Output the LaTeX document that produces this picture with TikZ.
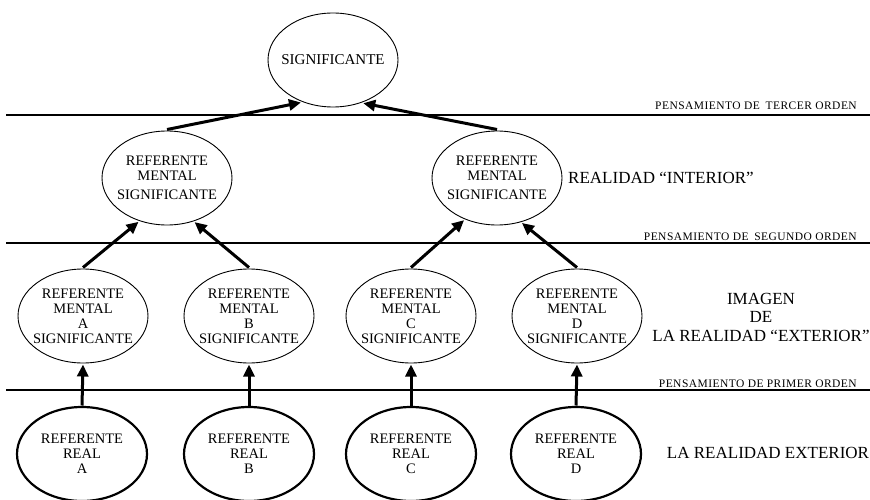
\documentclass[tikz,border=0pt]{standalone}
\usepackage{fontspec}
\setmainfont{Liberation Serif}
\newfontfamily\trackedserif[LetterSpace=4]{Liberation Serif}
\usetikzlibrary{arrows.meta,shapes.geometric}

\begin{document}
\begin{tikzpicture}[x=1pt,y=-1pt,
  mind/.style={draw, ellipse, line width=0.9pt, minimum width=130pt, minimum height=94pt,
    inner xsep=-30pt, inner ysep=-20pt, outer sep=1.5pt, align=center,
    font=\fontsize{14.5}{15}\selectfont},
  real/.style={mind, line width=2.2pt},
  levelline/.style={line width=1.8pt},
  flow/.style={line width=3pt, -{Triangle[length=12pt,width=11pt]}},
  orden/.style={anchor=base east, inner sep=0pt, font=\trackedserif\fontsize{11.5}{12}\selectfont},
  zone/.style={align=center, font=\fontsize{17}{18.5}\selectfont}]

\fill[white] (0,0) rectangle (870,500);
\useasboundingbox (0,0) rectangle (870,500);

% levels of thought
\coordinate (l3a) at (6,115);  \coordinate (l3b) at (870,115);
\coordinate (l2a) at (6,243);  \coordinate (l2b) at (870,243);
\coordinate (l1a) at (6,390);  \coordinate (l1b) at (870,390);
\draw[levelline] (l3a) -- (l3b);
\draw[levelline] (l2a) -- (l2b);
\draw[levelline] (l1a) -- (l1b);
\node[orden] (o3) at (857,110) {PENSAMIENTO DE\hspace{0.5em}TERCER ORDEN};
\node[orden] (o2) at (857,240.5) {PENSAMIENTO DE\hspace{0.5em}SEGUNDO ORDEN};
\node[orden] (o1) at (857,387) {PENSAMIENTO DE PRIMER ORDEN};

% signifier
\node[mind, font=\fontsize{15}{16}\selectfont] (sig) at (333,60) {SIGNIFICANTE};

% second-order mental referents
\node[mind] (mi) at (167,178) {REFERENTE\\MENTAL\\[4pt]SIGNIFICANTE};
\node[mind] (md) at (497,178) {REFERENTE\\MENTAL\\[4pt]SIGNIFICANTE};

% first-order mental referents
\node[mind] (ma) at (83,316)  {REFERENTE\\MENTAL\\A\\SIGNIFICANTE};
\node[mind] (mb) at (249,316) {REFERENTE\\MENTAL\\B\\SIGNIFICANTE};
\node[mind] (mc) at (411,316) {REFERENTE\\MENTAL\\C\\SIGNIFICANTE};
\node[mind] (mdd) at (577,316) {REFERENTE\\MENTAL\\D\\SIGNIFICANTE};

% real referents
\node[real] (ra) at (82,454)  {REFERENTE\\REAL\\A};
\node[real] (rb) at (249,454) {REFERENTE\\REAL\\B};
\node[real] (rc) at (411,454) {REFERENTE\\REAL\\C};
\node[real] (rd) at (576,454) {REFERENTE\\REAL\\D};

% connectors
\draw[flow] (mi.north) -- (sig.233);
\draw[flow] (md.north) -- (sig.305);
\draw[flow] (ma.north) -- (mi.237);
\draw[flow] (mb.north) -- (mi.302);
\draw[flow] (mc.north) -- (md.232);
\draw[flow] (mdd.north) -- (md.299);
\draw[flow] (ra.north) -- (ma.south);
\draw[flow] (rb.north) -- (mb.south);
\draw[flow] (rc.north) -- (mc.south);
\draw[flow] (rd.north) -- (mdd.south);

% zone labels
\node[zone] (interior) at (661,178) {REALIDAD “INTERIOR”};
\node[zone] (imagen) at (761,317) {IMAGEN\\DE\\LA REALIDAD “EXTERIOR”};
\node[zone] (exterior) at (768,453) {LA REALIDAD EXTERIOR};
\end{tikzpicture}
\end{document}
